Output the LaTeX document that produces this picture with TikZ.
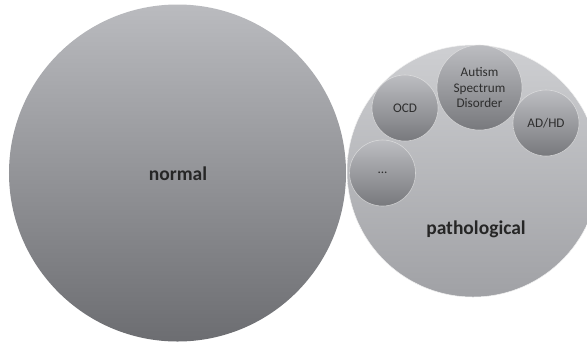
\documentclass[tikz,border=0pt]{standalone}
\usepackage{fontspec}
\setmainfont{Carlito}
\begin{document}
\begin{tikzpicture}[x=1bp,y=-1bp,
  bigc/.style={circle, inner sep=0pt, shading=axis, shading angle=0},
  smallc/.style={circle, inner sep=0pt, minimum size=66bp, top color=smtop, bottom color=smbot,
    draw=white!80!gray, draw opacity=0.7, line width=0.6bp, align=center, font=\fontsize{13.2bp}{15.5bp}\selectfont, text=black!82},
  biglabel/.style={font=\bfseries\fontsize{19.5bp}{22bp}\selectfont, text=black!85}]
\definecolor{nortop}{RGB}{186,187,191}
\definecolor{norbot}{RGB}{108,109,113}
\definecolor{pattop}{RGB}{206,207,210}
\definecolor{patbot}{RGB}{160,161,165}
\definecolor{smtop}{RGB}{188,189,193}
\definecolor{smbot}{RGB}{120,121,125}
\useasboundingbox (0,0) rectangle (587,345);
\node[bigc, minimum size=337bp, top color=nortop, bottom color=norbot] (normal) at (177.5,173) {};
\node[biglabel] (normaltext) at (178,174) {normal};
\node[bigc, minimum size=252bp, top color=pattop, bottom color=patbot, draw=white!90!gray, line width=0.5bp] (path) at (473,171) {};
\node[biglabel] (pathtext) at (476,229) {pathological};
\node[smallc] (ocd) at (405,108) {OCD};
\node[smallc, minimum size=85bp] (asd) at (479.5,87.5) {Autism\\Spectrum\\Disorder};
\node[smallc] (adhd) at (546,123) {AD/HD};
\node[smallc] (dots) at (382.5,173) {...};
\end{tikzpicture}
\end{document}
